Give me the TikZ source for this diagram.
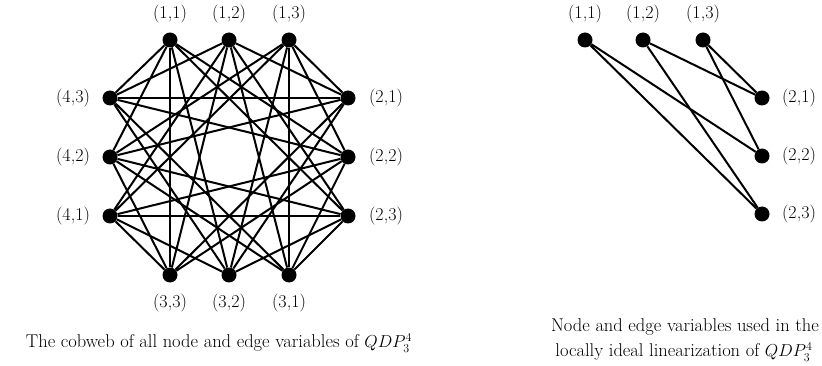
\documentclass[tikz,border=0pt]{standalone}
\begin{document}
\begin{tikzpicture}[x=1pt,y=-1pt,
  vtx/.style={circle,fill=black,inner sep=0pt,minimum size=15pt},
  edge/.style={line width=2pt},
  lbl/.style={font=\fontsize{18}{22}\selectfont,inner sep=0pt},
  captext/.style={font=\fontsize{18.5}{22}\selectfont,inner sep=0pt}]
\useasboundingbox (0,0) rectangle (822,366);
% left cobweb
\node[vtx] (a1) at (170,40) {};
\node[vtx] (a2) at (229,40) {};
\node[vtx] (a3) at (289,40) {};
\node[vtx] (b1) at (348,98) {};
\node[vtx] (b2) at (348,157) {};
\node[vtx] (b3) at (348,216) {};
\node[vtx] (c1) at (289,275) {};
\node[vtx] (c2) at (229,275) {};
\node[vtx] (c3) at (170,275) {};
\node[vtx] (d1) at (110,216) {};
\node[vtx] (d2) at (110,157) {};
\node[vtx] (d3) at (110,98) {};
\foreach \g/\h in {a/b,a/c,a/d,b/c,b/d,c/d}{
  \foreach \i in {1,2,3}{
    \foreach \j in {1,2,3}{
      \ifnum\i=\j\else
        \draw[edge] (\g\i) -- (\h\j);
      \fi
    }
  }
}
\node[lbl] (la1) at (170,14) {(1,1)};
\node[lbl] (la2) at (229,14) {(1,2)};
\node[lbl] (la3) at (289,14) {(1,3)};
\node[lbl] (lb1) at (386,98) {(2,1)};
\node[lbl] (lb2) at (386,157) {(2,2)};
\node[lbl] (lb3) at (386,216) {(2,3)};
\node[lbl] (lc1) at (289,303) {(3,1)};
\node[lbl] (lc2) at (229,303) {(3,2)};
\node[lbl] (lc3) at (170,303) {(3,3)};
\node[lbl] (ld1) at (73,216) {(4,1)};
\node[lbl] (ld2) at (73,157) {(4,2)};
\node[lbl] (ld3) at (73,98) {(4,3)};
\node[captext] (capl) at (219,343) {The cobweb of all node and edge variables of $QDP_3^4$};
% right graph
\node[vtx] (p1) at (585,40) {};
\node[vtx] (p2) at (643,40) {};
\node[vtx] (p3) at (703,40) {};
\node[vtx] (q1) at (762,98) {};
\node[vtx] (q2) at (762,156) {};
\node[vtx] (q3) at (762,214) {};
\draw[edge] (p1) -- (q2);
\draw[edge] (p1) -- (q3);
\draw[edge] (p2) -- (q1);
\draw[edge] (p2) -- (q3);
\draw[edge] (p3) -- (q1);
\draw[edge] (p3) -- (q2);
\node[lbl] (lp1) at (585,14) {(1,1)};
\node[lbl] (lp2) at (643,14) {(1,2)};
\node[lbl] (lp3) at (703,14) {(1,3)};
\node[lbl] (lq1) at (799,98) {(2,1)};
\node[lbl] (lq2) at (799,156) {(2,2)};
\node[lbl] (lq3) at (799,214) {(2,3)};
\node[captext] (capr1) at (685,327) {Node and edge variables used in the};
\node[captext] (capr2) at (684,352) {locally ideal linearization of $QDP_3^4$};
\end{tikzpicture}
\end{document}
